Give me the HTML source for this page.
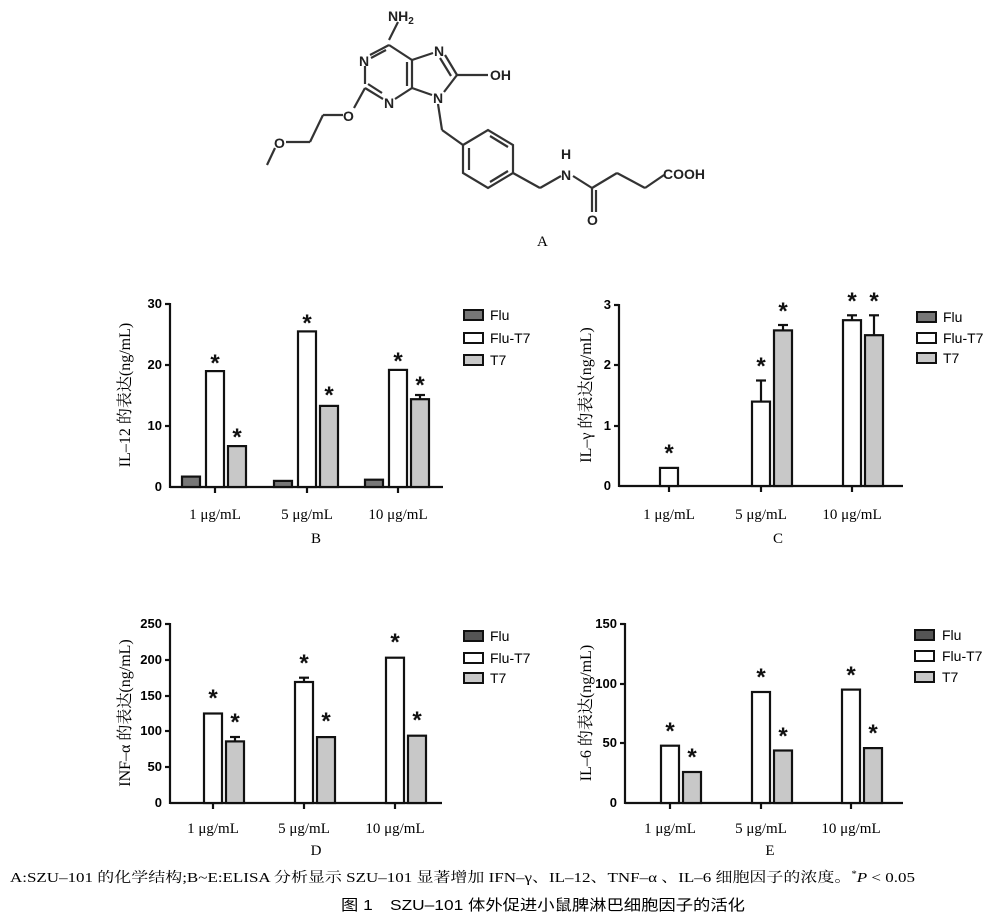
<!DOCTYPE html>
<html><head><meta charset="utf-8"><style>
body{margin:0;background:#fff}
svg{display:block}
.t{font-family:"Liberation Sans",sans-serif;font-weight:bold;font-size:13px}
.lg{font-family:"Liberation Sans",sans-serif;font-size:14px}
.s{font-family:"Liberation Serif","Noto Serif CJK SC",serif;font-size:15px}
.yl{font-family:"Liberation Serif","Noto Serif CJK SC",serif;font-size:16px}
.ast{font-family:"Liberation Sans",sans-serif;font-weight:bold;font-size:24px}
.at{font-family:"Liberation Sans",sans-serif;font-weight:bold;font-size:14px}
.cap{font-family:"Liberation Serif","Noto Serif CJK SC",serif;font-size:14px}
.cap2{font-family:"Liberation Sans","Noto Sans CJK SC",sans-serif;font-size:15px}
</style></head><body>
<svg width="1000" height="921" viewBox="0 0 1000 921" xmlns="http://www.w3.org/2000/svg">
<rect width="1000" height="921" fill="#fff"/>
<g stroke="#333" stroke-width="2.2" fill="none">
<line x1="398" y1="22" x2="389" y2="40"/>
<line x1="389" y1="45" x2="370" y2="55"/>
<line x1="386" y1="50" x2="371" y2="58"/>
<line x1="365" y1="66" x2="365" y2="84"/>
<line x1="365" y1="88" x2="383" y2="99"/>
<line x1="368" y1="84" x2="382" y2="93"/>
<line x1="395" y1="99" x2="412" y2="88"/>
<line x1="412" y1="88" x2="412" y2="60"/>
<line x1="407" y1="86" x2="407" y2="62"/>
<line x1="412" y1="60" x2="389" y2="45"/>
<line x1="412" y1="60" x2="433" y2="53"/>
<line x1="445" y1="55" x2="457" y2="75"/>
<line x1="440" y1="58" x2="451" y2="76"/>
<line x1="457" y1="75" x2="488" y2="75"/>
<line x1="457" y1="75" x2="444" y2="92"/>
<line x1="412" y1="88" x2="432" y2="95"/>
<line x1="365" y1="88" x2="354" y2="108"/>
<line x1="343" y1="115" x2="323" y2="115"/>
<line x1="323" y1="115" x2="310" y2="142"/>
<line x1="310" y1="142" x2="286" y2="142"/>
<line x1="275" y1="148" x2="267" y2="165"/>
<line x1="438" y1="104" x2="442" y2="130"/>
<line x1="442" y1="130" x2="463" y2="145"/>
<polygon points="463,145 488,130 513,145 513,173 488,188 463,173"/>
<line x1="469" y1="148" x2="469" y2="170"/>
<line x1="490" y1="136" x2="508" y2="147"/>
<line x1="490" y1="182" x2="508" y2="171"/>
<line x1="513" y1="173" x2="540" y2="188"/>
<line x1="540" y1="188" x2="561" y2="176"/>
<line x1="573" y1="176" x2="592" y2="188"/>
<line x1="592" y1="188" x2="592" y2="212"/>
<line x1="596" y1="190" x2="596" y2="212"/>
<line x1="592" y1="188" x2="617" y2="173"/>
<line x1="617" y1="173" x2="645" y2="188"/>
<line x1="645" y1="188" x2="664" y2="175"/>
</g>
<g class="at" fill="#222">
<text x="388" y="21">NH<tspan font-size="10" dy="3">2</tspan></text>
<text x="359" y="66">N</text>
<text x="384" y="108">N</text>
<text x="434" y="56">N</text>
<text x="490" y="80">OH</text>
<text x="433" y="103">N</text>
<text x="343" y="121">O</text>
<text x="274" y="148">O</text>
<text x="561" y="159">H</text>
<text x="561" y="180">N</text>
<text x="587" y="225">O</text>
<text x="663" y="179">COOH</text>
</g>
<text x="537" y="246" class="s">A</text>

<!-- Chart B -->
<g stroke="#111" stroke-width="2.2">
<line x1="170" y1="303" x2="170" y2="488"/><line x1="165" y1="304" x2="170" y2="304"/><line x1="165" y1="365" x2="170" y2="365"/><line x1="165" y1="426" x2="170" y2="426"/>
<line x1="170" y1="487" x2="443" y2="487"/>
<line x1="215" y1="487" x2="215" y2="493"/><line x1="307" y1="487" x2="307" y2="493"/><line x1="398" y1="487" x2="398" y2="493"/>
<rect x="182" y="476.6" width="18" height="10.4" fill="#777"/>
<rect x="206" y="371.1" width="18" height="115.9" fill="#fff"/>
<rect x="228" y="446.1" width="18" height="40.9" fill="#c8c8c8"/>
<rect x="274" y="480.9" width="18" height="6.1" fill="#777"/>
<rect x="298" y="331.4" width="18" height="155.6" fill="#fff"/>
<rect x="320" y="405.9" width="18" height="81.1" fill="#c8c8c8"/>
<rect x="365" y="479.7" width="18" height="7.3" fill="#777"/>
<rect x="389" y="369.9" width="18" height="117.1" fill="#fff"/>
<rect x="411" y="399.2" width="18" height="87.8" fill="#c8c8c8"/>
<line x1="420" y1="399" x2="420" y2="395"/><line x1="415" y1="395" x2="425" y2="395"/>
</g>
<g class="ast" fill="#111" text-anchor="middle">
<text x="215" y="371">*</text><text x="237" y="445">*</text>
<text x="307" y="331">*</text><text x="329" y="403">*</text>
<text x="398" y="369">*</text><text x="420" y="393">*</text>
</g>
<g class="t" text-anchor="end"><text x="162" y="491">0</text><text x="162" y="430">10</text><text x="162" y="369">20</text><text x="162" y="308">30</text></g>
<text class="yl" transform="translate(130,395) rotate(-90)" text-anchor="middle">IL–12 的表达(ng/mL)</text>
<g class="s" text-anchor="middle"><text x="215" y="519">1 μg/mL</text><text x="307" y="519">5 μg/mL</text><text x="398" y="519">10 μg/mL</text><text x="316" y="543">B</text></g>
<g stroke="#111" stroke-width="2"><rect x="464" y="310" width="19" height="10" fill="#777"/><rect x="464" y="333" width="19" height="10" fill="#fff"/><rect x="464" y="355" width="19" height="10" fill="#c8c8c8"/></g>
<g class="lg"><text x="490" y="320">Flu</text><text x="490" y="343">Flu-T7</text><text x="490" y="365">T7</text></g>

<!-- Chart C -->
<g stroke="#111" stroke-width="2.2">
<line x1="619" y1="304" x2="619" y2="487"/><line x1="614" y1="305" x2="619" y2="305"/><line x1="614" y1="365" x2="619" y2="365"/><line x1="614" y1="426" x2="619" y2="426"/>
<line x1="619" y1="486" x2="903" y2="486"/>
<line x1="669" y1="486" x2="669" y2="492"/><line x1="761" y1="486" x2="761" y2="492"/><line x1="852" y1="486" x2="852" y2="492"/>
<rect x="660" y="467.9" width="18" height="18.1" fill="#fff"/>
<rect x="752" y="401.6" width="18" height="84.4" fill="#fff"/>
<line x1="761" y1="401" x2="761" y2="380.5"/><line x1="756" y1="380.5" x2="766" y2="380.5"/>
<rect x="774" y="330.4" width="18" height="155.6" fill="#c8c8c8"/>
<line x1="783" y1="330" x2="783" y2="325"/><line x1="778" y1="325" x2="788" y2="325"/>
<rect x="843" y="320.2" width="18" height="165.8" fill="#fff"/>
<line x1="852" y1="320" x2="852" y2="315.3"/><line x1="847" y1="315.3" x2="857" y2="315.3"/>
<rect x="865" y="335.2" width="18" height="150.8" fill="#c8c8c8"/>
<line x1="874" y1="335" x2="874" y2="315.3"/><line x1="869" y1="315.3" x2="879" y2="315.3"/>
</g>
<g class="ast" fill="#111" text-anchor="middle">
<text x="669" y="461">*</text><text x="761" y="374">*</text><text x="783" y="319">*</text><text x="852" y="309">*</text><text x="874" y="309">*</text>
</g>
<g class="t" text-anchor="end"><text x="611" y="490">0</text><text x="611" y="430">1</text><text x="611" y="369">2</text><text x="611" y="309">3</text></g>
<text class="yl" transform="translate(591,395) rotate(-90)" text-anchor="middle">IL–γ 的表达(ng/mL)</text>
<g class="s" text-anchor="middle"><text x="669" y="519">1 μg/mL</text><text x="761" y="519">5 μg/mL</text><text x="852" y="519">10 μg/mL</text><text x="778" y="543">C</text></g>
<g stroke="#111" stroke-width="2"><rect x="917" y="312" width="19" height="10" fill="#777"/><rect x="917" y="333" width="19" height="10" fill="#fff"/><rect x="917" y="353" width="19" height="10" fill="#c8c8c8"/></g>
<g class="lg"><text x="943" y="322">Flu</text><text x="943" y="343">Flu-T7</text><text x="943" y="363">T7</text></g>

<!-- Chart D -->
<g stroke="#111" stroke-width="2.2">
<line x1="170" y1="623" x2="170" y2="804"/>
<line x1="165" y1="624" x2="170" y2="624"/><line x1="165" y1="660" x2="170" y2="660"/><line x1="165" y1="696" x2="170" y2="696"/><line x1="165" y1="731" x2="170" y2="731"/><line x1="165" y1="767" x2="170" y2="767"/>
<line x1="170" y1="803" x2="442" y2="803"/>
<line x1="213" y1="803" x2="213" y2="809"/><line x1="304" y1="803" x2="304" y2="809"/><line x1="395" y1="803" x2="395" y2="809"/>
<rect x="204" y="713.5" width="18" height="89.5" fill="#fff"/>
<rect x="226" y="741.4" width="18" height="61.6" fill="#c8c8c8"/>
<line x1="235" y1="741" x2="235" y2="737"/><line x1="230" y1="737" x2="240" y2="737"/>
<rect x="295" y="682" width="18" height="121" fill="#fff"/>
<line x1="304" y1="682" x2="304" y2="677.7"/><line x1="299" y1="677.7" x2="309" y2="677.7"/>
<rect x="317" y="737.1" width="18" height="65.9" fill="#c8c8c8"/>
<rect x="386" y="657.7" width="18" height="145.3" fill="#fff"/>
<rect x="408" y="735.7" width="18" height="67.3" fill="#c8c8c8"/>
</g>
<g class="ast" fill="#111" text-anchor="middle">
<text x="213" y="706">*</text><text x="235" y="730">*</text><text x="304" y="671">*</text><text x="326" y="729">*</text><text x="395" y="650">*</text><text x="417" y="728">*</text>
</g>
<g class="t" text-anchor="end"><text x="162" y="807">0</text><text x="162" y="771">50</text><text x="162" y="735">100</text><text x="162" y="700">150</text><text x="162" y="664">200</text><text x="162" y="628">250</text></g>
<text class="yl" transform="translate(130,713) rotate(-90)" text-anchor="middle">INF–α 的表达(ng/mL)</text>
<g class="s" text-anchor="middle"><text x="213" y="833">1 μg/mL</text><text x="304" y="833">5 μg/mL</text><text x="395" y="833">10 μg/mL</text><text x="316" y="855">D</text></g>
<g stroke="#111" stroke-width="2"><rect x="464" y="631" width="19" height="10" fill="#555"/><rect x="464" y="653" width="19" height="10" fill="#fff"/><rect x="464" y="673" width="19" height="10" fill="#c8c8c8"/></g>
<g class="lg"><text x="490" y="641">Flu</text><text x="490" y="663">Flu-T7</text><text x="490" y="683">T7</text></g>

<!-- Chart E -->
<g stroke="#111" stroke-width="2.2">
<line x1="625" y1="623" x2="625" y2="804"/>
<line x1="620" y1="624" x2="625" y2="624"/><line x1="620" y1="684" x2="625" y2="684"/><line x1="620" y1="743" x2="625" y2="743"/>
<line x1="625" y1="803" x2="903" y2="803"/>
<line x1="670" y1="803" x2="670" y2="809"/><line x1="761" y1="803" x2="761" y2="809"/><line x1="851" y1="803" x2="851" y2="809"/>
<rect x="661" y="745.7" width="18" height="57.3" fill="#fff"/>
<rect x="683" y="772" width="18" height="31" fill="#c8c8c8"/>
<rect x="752" y="692" width="18" height="111" fill="#fff"/>
<rect x="774" y="750.5" width="18" height="52.5" fill="#c8c8c8"/>
<rect x="842" y="689.6" width="18" height="113.4" fill="#fff"/>
<rect x="864" y="748.1" width="18" height="54.9" fill="#c8c8c8"/>
</g>
<g class="ast" fill="#111" text-anchor="middle">
<text x="670" y="739">*</text><text x="692" y="765">*</text><text x="761" y="685">*</text><text x="783" y="744">*</text><text x="851" y="683">*</text><text x="873" y="741">*</text>
</g>
<g class="t" text-anchor="end"><text x="617" y="807">0</text><text x="617" y="747">50</text><text x="617" y="688">100</text><text x="617" y="628">150</text></g>
<text class="yl" transform="translate(591,713) rotate(-90)" text-anchor="middle">IL–6 的表达(ng/mL)</text>
<g class="s" text-anchor="middle"><text x="670" y="833">1 μg/mL</text><text x="761" y="833">5 μg/mL</text><text x="851" y="833">10 μg/mL</text><text x="770" y="855">E</text></g>
<g stroke="#111" stroke-width="2"><rect x="915" y="630" width="19" height="10" fill="#555"/><rect x="915" y="651" width="19" height="10" fill="#fff"/><rect x="915" y="672" width="19" height="10" fill="#c8c8c8"/></g>
<g class="lg"><text x="942" y="640">Flu</text><text x="942" y="661">Flu-T7</text><text x="942" y="682">T7</text></g>

<text x="10" y="882" class="cap" textLength="905" lengthAdjust="spacingAndGlyphs">A:SZU–101 的化学结构;B~E:ELISA 分析显示 SZU–101 显著增加 IFN–γ、IL–12、TNF–α 、IL–6 细胞因子的浓度。<tspan font-size="9" dy="-5">*</tspan><tspan dy="5" font-style="italic">P</tspan> &lt; 0.05</text>
<text x="341" y="910" class="cap2" textLength="404" lengthAdjust="spacingAndGlyphs">图 1　SZU–101 体外促进小鼠脾淋巴细胞因子的活化</text>
</svg>
</body></html>
